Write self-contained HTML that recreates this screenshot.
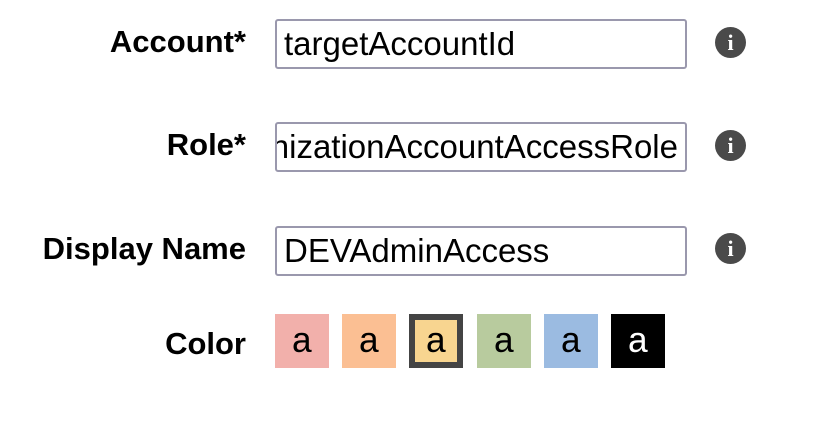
<!DOCTYPE html>
<html><head><style>
body{margin:0;width:837px;height:431px;background:#fff;position:relative;overflow:hidden;font-family:"Liberation Sans",Arial,sans-serif}
.l{position:absolute;right:591px;font-weight:bold;font-size:31px;color:#000;white-space:nowrap}
.i{position:absolute;left:275px;width:408px;height:46px;border:2px solid #9a98ad;border-radius:3px;font-size:33px;line-height:46px;overflow:hidden;white-space:nowrap;box-sizing:content-box}
.i span{padding-left:7px}
.ic{position:absolute;left:715px;width:31px;height:31px;border-radius:50%;background:#4a4a4a;color:#fff;font-weight:bold;font-size:22px;text-align:center;line-height:31px;font-family:"Liberation Serif",serif}
.s{position:absolute;top:314px;width:54px;height:54px;font-family:"Liberation Mono",monospace;font-size:36px;text-align:center;line-height:58px;box-sizing:border-box}
</style></head><body>
<div class="l" style="top:24px">Account*</div>
<div class="l" style="top:127px">Role*</div>
<div class="l" style="top:231px">Display Name</div>
<div class="l" style="top:326px">Color</div>
<div class="i" style="top:19px"><span>targetAccountId</span></div>
<div class="i" style="top:122px;direction:rtl;text-align:right"><span style="padding-right:7px;padding-left:0">OrganizationAccountAccessRole</span></div>
<div class="i" style="top:226px"><span>DEVAdminAccess</span></div>
<div class="ic" style="top:27px">i</div>
<div class="ic" style="top:130px">i</div>
<div class="ic" style="top:233px">i</div>
<div class="s" style="left:275px;background:#f2b0ab">a</div>
<div class="s" style="left:342px;background:#fbbf93">a</div>
<div class="s" style="left:409px;background:#f8d590;border:6px solid #444;line-height:46px">a</div>
<div class="s" style="left:477px;background:#b8cb9e">a</div>
<div class="s" style="left:544px;background:#9bbbe1">a</div>
<div class="s" style="left:611px;background:#000;color:#fff">a</div>
</body></html>
